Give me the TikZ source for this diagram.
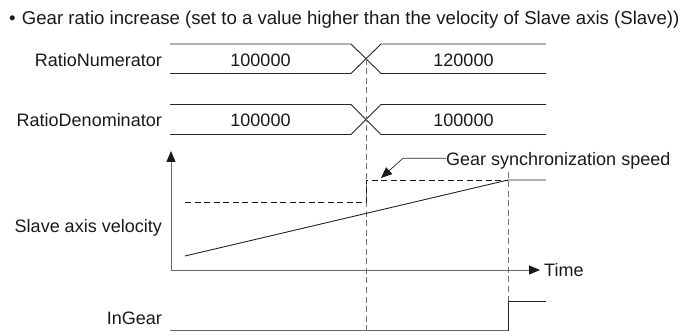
\documentclass[tikz,border=0pt]{standalone}
\usepackage{fontspec}
\setmainfont{Liberation Sans}
\usetikzlibrary{arrows.meta}
\begin{document}
\begin{tikzpicture}[x=1pt,y=-1pt,
  font=\fontsize{18}{21}\selectfont,
  sig/.style={draw=black!85, line width=0.9pt},
  axisline/.style={draw=black!60, line width=0.9pt},
  guide/.style={draw=black!55, line width=0.9pt, dash pattern=on 6pt off 3.5pt},
  lvl/.style={draw=black!90, line width=0.9pt, dash pattern=on 6pt off 3.5pt},
  lbl/.style={anchor=base east, inner sep=0pt, text=black!90},
  val/.style={anchor=base, inner sep=0pt, text=black!90},
  tipA/.style={-{Triangle[length=11pt,width=9pt,color=black!90]}}]
\useasboundingbox (0,0) rectangle (683,331);

% title
\node[anchor=base west, inner sep=0pt, text=black!90, font=\fontsize{18.6}{21}\selectfont] (title) at (9,25)
  {\textbullet\hspace{0.33em}Gear ratio increase (set to a value higher than the velocity of Slave axis (Slave))};

% labels
\node[lbl] (lnum) at (162,67) {RatioNumerator};
\node[lbl] (lden) at (162,127) {RatioDenominator};
\node[lbl] (lvel) at (162,233) {Slave axis velocity};
\node[lbl] (ling) at (162,324) {InGear};

% RatioNumerator bus
\coordinate (nA) at (170,44);
\coordinate (nB) at (351,44);
\coordinate (nC) at (381,73.5);
\coordinate (nD) at (546,73.5);
\coordinate (nE) at (170,73.5);
\coordinate (nF) at (351,73.5);
\coordinate (nG) at (381,44);
\coordinate (nH) at (546,44);
\draw[sig] (nA) -- (nB) -- (nC) -- (nD);
\draw[sig] (nE) -- (nF) -- (nG) -- (nH);
\node[val] (nv1) at (260.5,67) {100000};
\node[val] (nv2) at (463.5,67) {120000};

% RatioDenominator bus
\coordinate (dA) at (170,104.5);
\coordinate (dB) at (351,104.5);
\coordinate (dC) at (381,134.5);
\coordinate (dD) at (546,134.5);
\coordinate (dE) at (170,134.5);
\coordinate (dF) at (351,134.5);
\coordinate (dG) at (381,104.5);
\coordinate (dH) at (546,104.5);
\draw[sig] (dA) -- (dB) -- (dC) -- (dD);
\draw[sig] (dE) -- (dF) -- (dG) -- (dH);
\node[val] (dv1) at (260.5,127) {100000};
\node[val] (dv2) at (463.5,127) {100000};

% guide lines
\coordinate (g1top) at (366,59);
\coordinate (g1bot) at (366,331);
\coordinate (g2top) at (508,172);
\coordinate (g2bot) at (508,301);
\draw[guide] (g1top) -- (g1bot);
\draw[guide] (g2top) -- (g2bot);

% axes
\coordinate (org) at (171,270);
\coordinate (ytip) at (171,151);
\coordinate (xtip) at (540,270);
\draw[axisline, tipA] (org) -- (ytip);
\draw[axisline, tipA] (org) -- (xtip);
\node[anchor=base west, inner sep=0pt, text=black!90] (time) at (544,276.5) {Time};

% velocity
\coordinate (r0) at (185,256);
\coordinate (r1) at (508,180);
\coordinate (r2) at (546,180);
\draw[sig] (r0) -- (r1) -- (r2);
\coordinate (s0) at (185,202.5);
\coordinate (s1) at (366,202.5);
\coordinate (s2) at (366,180);
\draw[lvl] (s0) -- (s1) -- (s2) -- (r1);

% leader
\node[anchor=base west, inner sep=0pt, text=black!90] (gss) at (446,166) {Gear synchronization speed};
\coordinate (k1) at (403,158.3);
\coordinate (k2) at (381,178);
\draw[sig, line width=0.7pt, tipA] (gss.west |- 0,158.3) -- (k1) -- (k2);

% InGear
\coordinate (i0) at (170,330.5);
\coordinate (i1) at (508,330.5);
\coordinate (i2) at (508,301);
\coordinate (i3) at (546,301);
\draw[axisline] (i0) -- (i1);
\draw[sig] (i1) -- (i2) -- (i3);
\end{tikzpicture}
\end{document}
